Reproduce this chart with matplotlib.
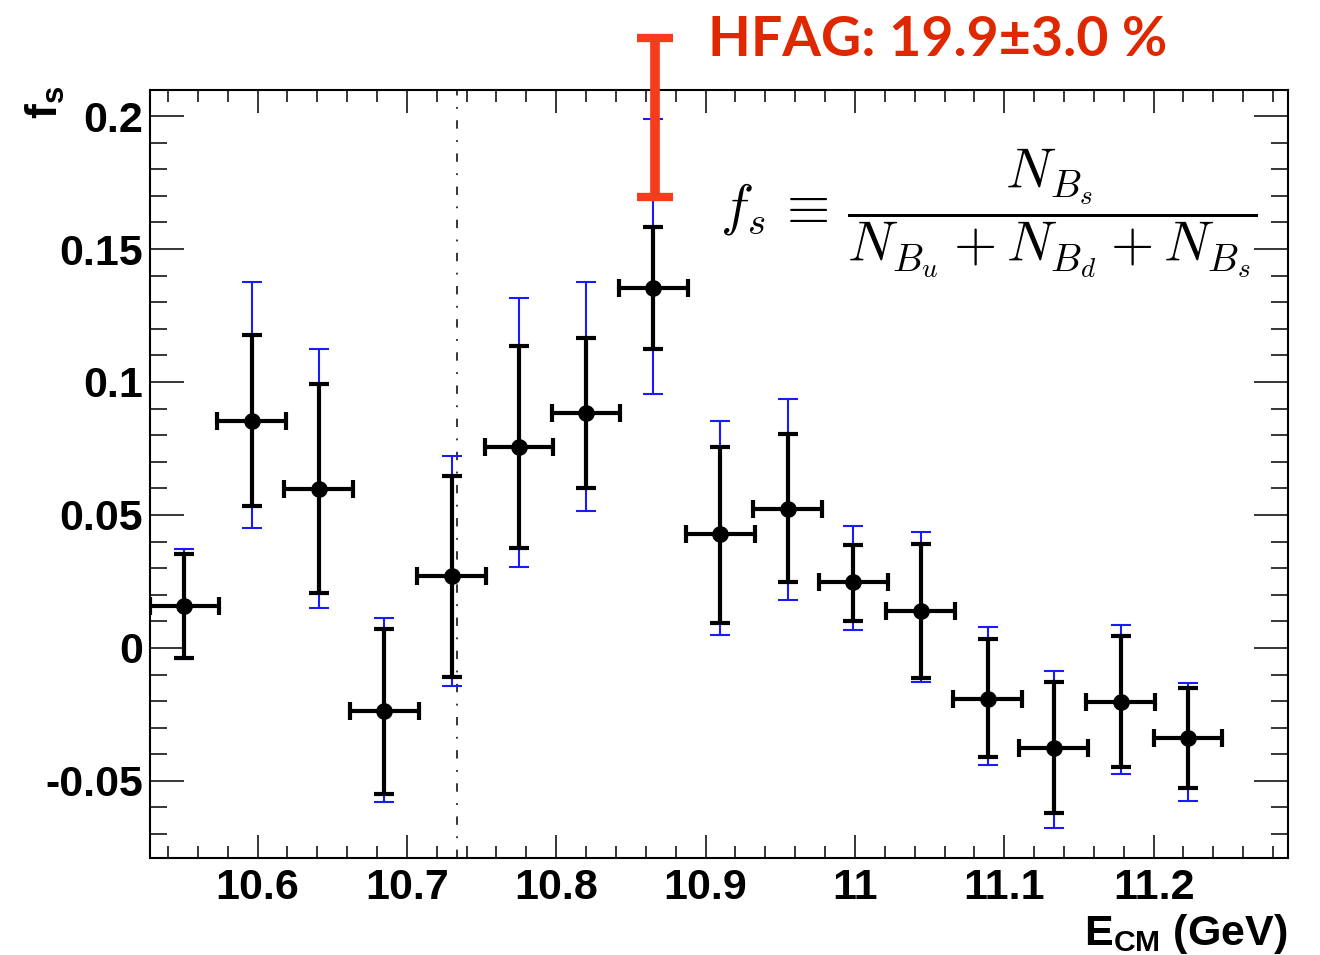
import numpy as np
import matplotlib
matplotlib.use("Agg")
import matplotlib.pyplot as plt
from matplotlib.ticker import MultipleLocator

plt.rcParams['font.family'] = ['Liberation Sans', 'DejaVu Sans']
plt.rcParams['font.weight'] = 'bold'
plt.rcParams['mathtext.fontset'] = 'custom'
plt.rcParams['mathtext.rm'] = 'Liberation Sans:bold'
plt.rcParams['mathtext.it'] = 'Liberation Sans:bold'
plt.rcParams['mathtext.bf'] = 'Liberation Sans:bold'

# centre-of-mass energy (GeV) and half-width of each point
ecm = [10.551, 10.596, 10.641, 10.685, 10.730, 10.775, 10.820, 10.865,
       10.910, 10.955, 10.999, 11.044, 11.089, 11.133, 11.178, 11.223]
ecm_err = 0.023

fs = [0.0158, 0.0855, 0.0599, -0.0239, 0.0272, 0.0757, 0.0882, 0.1355,
      0.0427, 0.0524, 0.0246, 0.0140, -0.0192, -0.0375, -0.0202, -0.0337]
# statistical error band (lower / upper end)
stat_lo = [-0.0039, 0.0534, 0.0208, -0.0549, -0.0108, 0.0377, 0.0600, 0.1123,
           0.0093, 0.0247, 0.0103, -0.0112, -0.0412, -0.0619, -0.0446, -0.0525]
stat_hi = [0.0352, 0.1177, 0.0991, 0.0073, 0.0648, 0.1137, 0.1164, 0.1584,
           0.0757, 0.0803, 0.0388, 0.0392, 0.0035, -0.0130, 0.0046, -0.0152]
# total (stat + syst) error
tot_lo = [-0.0041, 0.0452, 0.0149, -0.0580, -0.0142, 0.0306, 0.0515, 0.0955,
          0.0049, 0.0180, 0.0068, -0.0130, -0.0442, -0.0678, -0.0476, -0.0575]
tot_hi = [0.0371, 0.1377, 0.1123, 0.0114, 0.0722, 0.1317, 0.1375, 0.1989,
          0.0855, 0.0936, 0.0460, 0.0436, 0.0078, -0.0085, 0.0085, -0.0133]

# HFAG average
hfag_x = 10.866
hfag_val = 0.1995
hfag_err = 0.030

threshold = 10.7333

x = np.array(ecm)
y = np.array(fs)
stat_err = [y - np.array(stat_lo), np.array(stat_hi) - y]
tot_err = [y - np.array(tot_lo), np.array(tot_hi) - y]

fig = plt.figure(figsize=(13.2, 9.55), dpi=100)
ax = fig.add_axes([150/1320, 1 - 858/955, (1288-150)/1320, (858-90)/955])

ax.axvline(threshold, color='black', lw=1.1, linestyle=(0, (5.5, 7.5, 1.2, 7.5)), zorder=1)

ax.errorbar(x, y, yerr=tot_err, fmt='none', ecolor='#1a1aff', elinewidth=1.5,
            capsize=7.2, capthick=1.5, zorder=2)
ax.errorbar(x, y, yerr=stat_err, fmt='none', ecolor='black', elinewidth=3,
            capsize=7.5, capthick=3, zorder=3)
ax.errorbar(x, y, xerr=ecm_err, fmt='o', color='black', ms=11, elinewidth=3,
            capsize=6.8, capthick=3, zorder=4)

ax.errorbar([hfag_x], [hfag_val], yerr=[hfag_err], fmt='none', ecolor='#f53d1e',
            elinewidth=7, capsize=13, capthick=6, zorder=5, clip_on=False)

ax.set_xlim(10.528, 11.290)
ax.set_ylim(-0.079, 0.2098)

ax.xaxis.set_minor_locator(MultipleLocator(0.02))
ax.yaxis.set_minor_locator(MultipleLocator(0.01))
ax.set_xticks([10.6, 10.7, 10.8, 10.9, 11.0, 11.1, 11.2])
ax.set_xticklabels(['10.6', '10.7', '10.8', '10.9', '11', '11.1', '11.2'])
ax.set_yticks([-0.05, 0, 0.05, 0.1, 0.15, 0.2])
ax.set_yticklabels(['-0.05', '0', '0.05', '0.1', '0.15', '0.2'])

ax.tick_params(axis='x', which='major', direction='in', length=16.5, width=1.1,
               top=True, labelsize=31, pad=7)
ax.tick_params(axis='x', which='minor', direction='in', length=8.6, width=1.1, top=True)
ax.tick_params(axis='y', which='major', direction='in', length=24.5, width=1.1,
               right=True, labelsize=31, pad=5)
ax.tick_params(axis='y', which='minor', direction='in', length=12, width=1.1, right=True)
for sp in ax.spines.values():
    sp.set_linewidth(1.5)

fig.text(45/1320, 1 - 86/955, r'$\mathrm{f}_{\mathrm{s}}$', rotation=90, fontsize=32,
         ha='center', va='top')
fig.text(1288/1320, 1 - 945/955, r'$\mathrm{E}_{\mathrm{CM}}$ (GeV)', fontsize=31,
         ha='right', va='baseline')

fig.text(708/1320, 1 - 56/955, 'HFAG: 19.9\u00b13.0 %', fontsize=40, color='#e02800',
         family=['Lato', 'DejaVu Sans'], fontweight='bold', ha='left', va='baseline')

ax.text(10.91, 0.1635, r'$f_s\,\equiv\,\dfrac{N_{B_s}}{N_{B_u}+N_{B_d}+N_{B_s}}$',
        fontsize=40, math_fontfamily='cm', ha='left', va='center')

fig.savefig('out.png', dpi=100)
